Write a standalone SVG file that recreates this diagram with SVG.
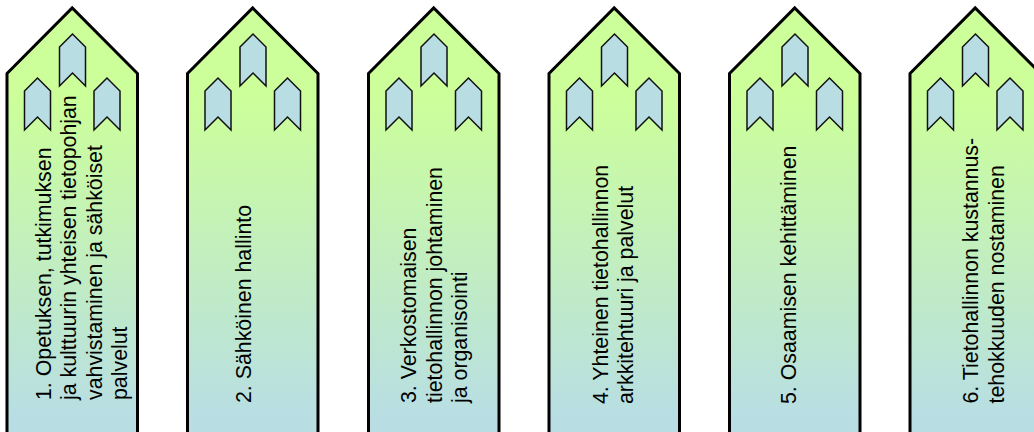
<svg xmlns="http://www.w3.org/2000/svg" width="1034" height="432" viewBox="0 0 1034 432">
<style>
.b{fill:url(#g);stroke:#000;stroke-width:3}
.c{fill:#b8dee4;stroke:#111;stroke-width:1.500}
text{font:21.330px "Liberation Sans",Arial,sans-serif;fill:#000}
</style>
<defs>
<linearGradient id="g" x1="0" y1="0" x2="0" y2="1"><stop offset="0.2" stop-color="#ccff99"/><stop offset="0.95" stop-color="#b8dee4"/></linearGradient>
<g id="s">
<path class="b" d="M7 73.500L72.200 8L137.500 73.500V440H7Z"/>
<path class="c" d="M59.500 47L72.500 34L85.500 47V86L72.500 73L59.500 86Z"/>
<path class="c" d="M24.500 91L37.500 78L50.500 91V130L37.500 117L24.500 130Z"/>
<path class="c" d="M94 91L107 78L120 91V130L107 117L94 130Z"/>
</g>
</defs>
<g id="n1"><use href="#s"/>
<text transform="translate(0 400) rotate(-90)"><tspan x="0" y="50.500">1. Opetuksen, tutkimuksen</tspan><tspan x="0" y="76">ja kulttuurin yhteisen tietopohjan</tspan><tspan x="0" y="101.500">vahvistaminen ja sähköiset</tspan><tspan x="0" y="127">palvelut</tspan></text></g>
<g id="n2"><use href="#s" x="180.500"/>
<text transform="translate(0 403) rotate(-90)"><tspan x="0" y="251">2. Sähköinen hallinto</tspan></text></g>
<g id="n3"><use href="#s" x="361.500"/>
<text transform="translate(0 403) rotate(-90)"><tspan x="0" y="416">3. Verkostomaisen</tspan><tspan x="0" y="441.500">tietohallinnon johtaminen</tspan><tspan x="0" y="466.500">ja organisointi</tspan></text></g>
<g id="n4"><use href="#s" x="542"/>
<text transform="translate(0 404) rotate(-90)"><tspan x="0" y="607.500">4. Yhteinen tietohallinnon</tspan><tspan x="0" y="632.500">arkkitehtuuri ja palvelut</tspan></text></g>
<g id="n5"><use href="#s" x="722.500"/>
<text transform="translate(0 404) rotate(-90)"><tspan x="0" y="796">5. Osaamisen kehittäminen</tspan></text></g>
<g id="n6"><use href="#s" x="903"/>
<text transform="translate(0 403.500) rotate(-90)"><tspan x="0" y="978">6. Tietohallinnon kustannus-</tspan><tspan x="0" y="1004">tehokkuuden nostaminen</tspan></text></g>
</svg>
